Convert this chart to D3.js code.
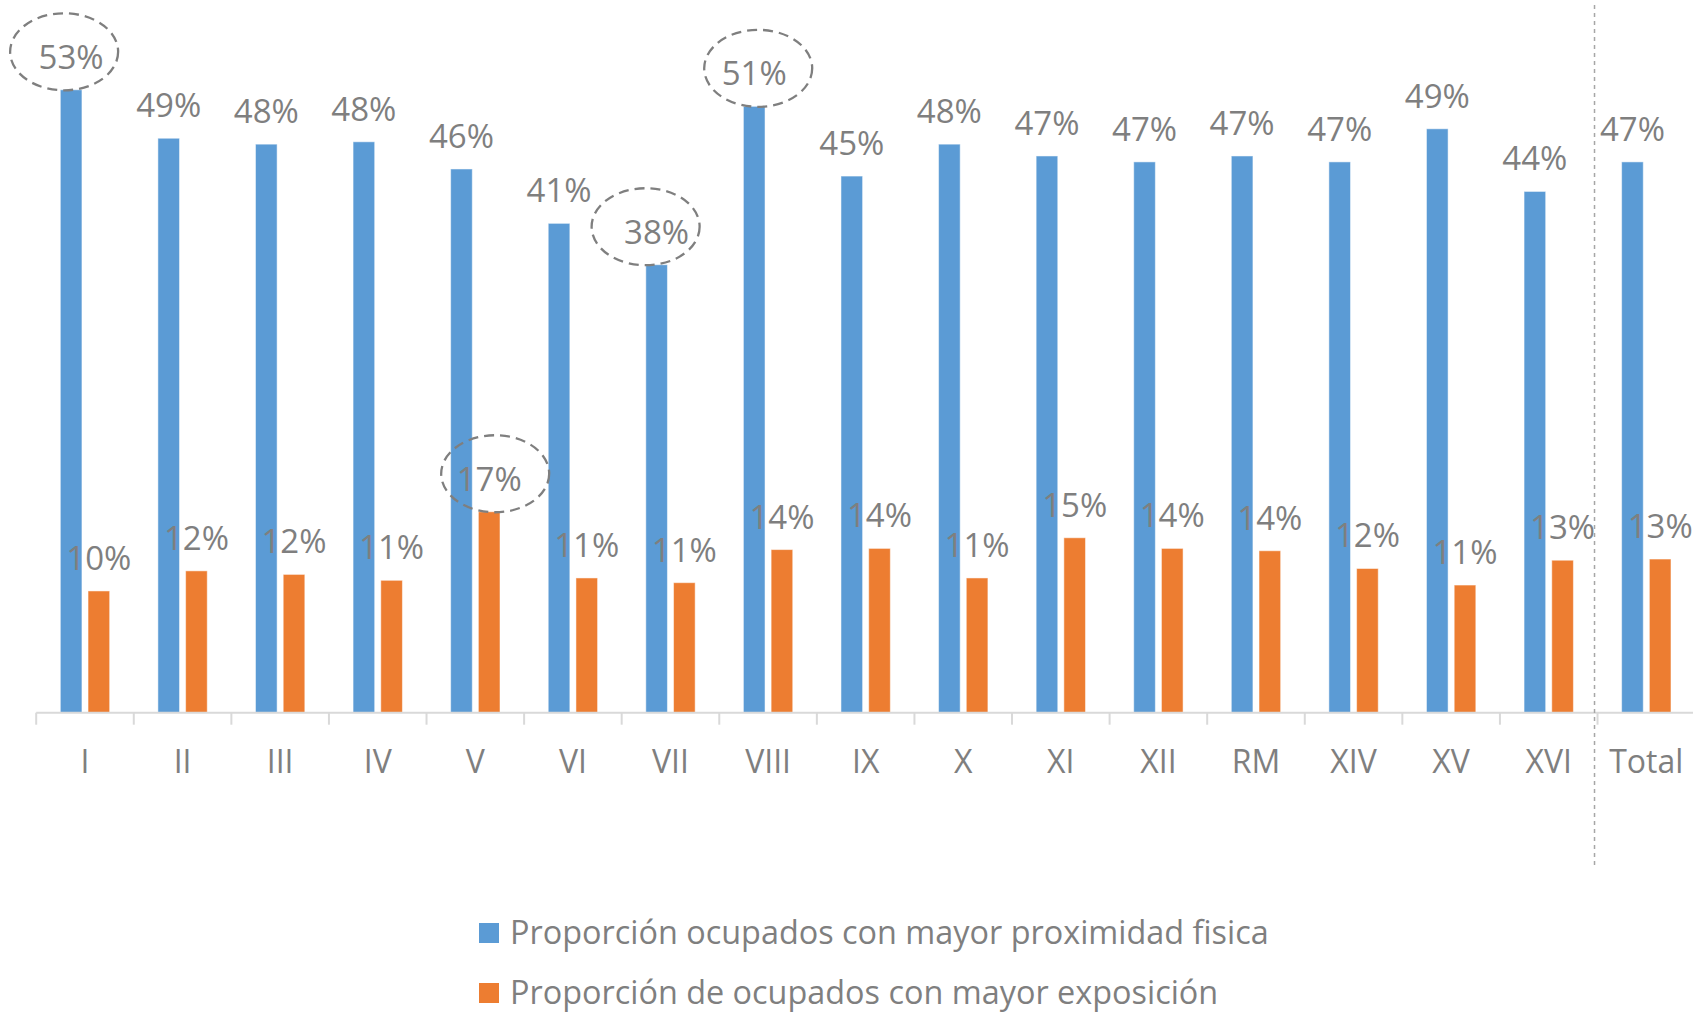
<!DOCTYPE html>
<html>
<head>
<meta charset="utf-8">
<script src="https://cdn.jsdelivr.net/npm/d3@7"></script>
<style>
  body { margin: 0; background: #fff; }
  text { font-family: "Open Sans", sans-serif; fill: #7f7f7f; }
</style>
</head>
<body>
<script>
var categories = ['I','II','III','IV','V','VI','VII','VIII','IX','X','XI','XII','RM','XIV','XV','XVI','Total'];
var proximidad = [0.527,0.486,0.481,0.483,0.460,0.414,0.379,0.513,0.454,0.481,0.471,0.466,0.471,0.466,0.494,0.441,0.466];
var exposicion = [0.103,0.120,0.117,0.112,0.170,0.114,0.110,0.138,0.139,0.114,0.148,0.139,0.137,0.122,0.108,0.129,0.130];
var seriesNames = ['Proporción ocupados con mayor proximidad fisica', 'Proporción de ocupados con mayor exposición'];
var colors = ['#5b9bd5', '#ed7d31'];
// points circled with a dashed ellipse: [category, series index]
var highlighted = [['I',0],['VIII',0],['VII',0],['V',1]];

var width = 1693, height = 1012;
var baseY = 712.7;

var svg = d3.select('body').append('svg')
    .attr('width', width)
    .attr('height', height);

var x0 = d3.scaleBand()
    .domain(categories)
    .range([36.2, 1695.1])
    .padding(0);

var x1 = d3.scaleBand()
    .domain([0, 1])
    .range([0, x0.bandwidth()])
    .paddingInner(0.22)
    .paddingOuter(0.87);

var y = d3.scaleLinear()
    .domain([0, 0.6])
    .range([baseY, 3.5]);

var rows = categories.map(function(c, i) {
  return { cat: c, values: [proximidad[i], exposicion[i]] };
});

// bars
var groups = svg.append('g').selectAll('g')
    .data(rows)
    .enter().append('g')
    .attr('transform', function(d) { return 'translate(' + x0(d.cat) + ',0)'; });

groups.selectAll('rect')
    .data(function(d) { return d.values; })
    .enter().append('rect')
    .attr('x', function(d, i) { return x1(i); })
    .attr('y', function(d) { return y(d); })
    .attr('width', x1.bandwidth())
    .attr('height', function(d) { return baseY - y(d); })
    .attr('fill', function(d, i) { return colors[i]; })
    .attr('stroke', '#ffffff')
    .attr('stroke-opacity', 0.5)
    .attr('stroke-width', 1);

// axis line + boundary ticks
var axis = svg.append('g').attr('class', 'axis');
axis.append('line')
    .attr('x1', x0.range()[0]).attr('x2', width)
    .attr('y1', baseY).attr('y2', baseY)
    .attr('stroke', '#d9d9d9').attr('stroke-width', 2);

axis.selectAll('.bound')
    .data(categories)
    .enter().append('line')
    .attr('x1', function(d) { return x0(d); })
    .attr('x2', function(d) { return x0(d); })
    .attr('y1', baseY).attr('y2', baseY + 12)
    .attr('stroke', '#d9d9d9').attr('stroke-width', 2);

var xAxis = d3.axisBottom(x0).tickSize(0);
var labelsG = svg.append('g')
    .attr('transform', 'translate(0,' + baseY + ')')
    .call(xAxis);
labelsG.select('.domain').remove();
labelsG.selectAll('text')
    .attr('y', 60).attr('dy', 0)
    .style('font-size', '32px')
    .style('font-family', '"Open Sans", sans-serif')
    .attr('fill', '#7f7f7f');

// dashed separator before Total
var sepX = x0('Total') - 3;
svg.append('line')
    .attr('x1', sepX).attr('x2', sepX)
    .attr('y1', 5).attr('y2', 869)
    .attr('stroke', '#a6a6a6').attr('stroke-width', 1.5)
    .attr('stroke-dasharray', '4,4');

// data labels
var labels = svg.append('g');
rows.forEach(function(r) {
  r.values.forEach(function(v, i) {
    labels.append('text')
      .attr('x', x0(r.cat) + x1(i) + x1.bandwidth() / 2)
      .attr('y', y(v) - 21)
      .attr('text-anchor', 'middle')
      .style('font-size', '33px')
      .text(Math.round(v * 100) + '%');
  });
});

// dashed ellipses around highlighted labels
var ellipseShift = { 'I': -7, 'VIII': 4, 'VII': -11, 'V': 6 };
svg.append('g').selectAll('ellipse')
    .data(highlighted)
    .enter().append('ellipse')
    .attr('cx', function(d) { return x0(d[0]) + x1(d[1]) + x1.bandwidth() / 2 + ellipseShift[d[0]]; })
    .attr('cy', function(d) {
      var v = d[1] === 0 ? proximidad[categories.indexOf(d[0])] : exposicion[categories.indexOf(d[0])];
      return y(v) - 38;
    })
    .attr('rx', 54)
    .attr('ry', 38.5)
    .attr('fill', 'none')
    .attr('stroke', '#7f7f7f')
    .attr('stroke-width', 2.3)
    .attr('stroke-dasharray', '10,6');

// legend
var legend = svg.append('g');
seriesNames.forEach(function(name, i) {
  var ly = 933 + i * 60;
  legend.append('rect')
    .attr('x', 479).attr('y', ly - 10)
    .attr('width', 20).attr('height', 20)
    .attr('fill', colors[i]);
  legend.append('text')
    .attr('x', 510).attr('y', ly + 11)
    .style('font-size', '32.4px')
    .text(name);
});
</script>
</body>
</html>
